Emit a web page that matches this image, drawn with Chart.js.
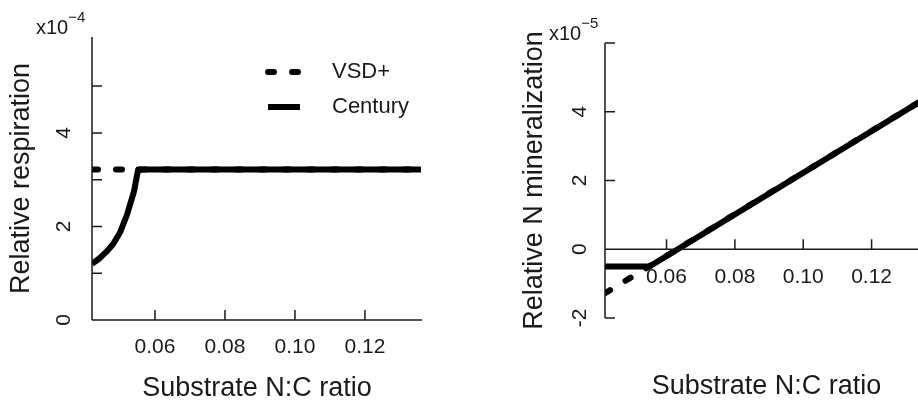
<!DOCTYPE html>
<html>
<head>
<meta charset="utf-8">
<script src="https://cdn.jsdelivr.net/npm/chart.js@4.4.1/dist/chart.umd.min.js"></script>
<style>
  html, body { margin: 0; padding: 0; background: #fff; overflow: hidden; }
  body { width: 918px; height: 404px; position: relative; }
  canvas { position: absolute; top: 0; }
  #resp { left: 0; }
  #mineral { left: 460px; }
</style>
</head>
<body>
<canvas id="resp" width="460" height="404"></canvas>
<canvas id="mineral" width="480" height="404"></canvas>
<script>
// Substrate N:C ratio ticks (both panels)
const ncTicks = [0.06, 0.08, 0.10, 0.12];
const ncTickLabels = ['0.06', '0.08', '0.10', '0.12'];

// Left panel: relative respiration, values in units of 1e-4
const respCenturyX = [0.042, 0.044, 0.046, 0.048, 0.050, 0.052, 0.054, 0.0552, 0.136];
const respCentury  = [1.20, 1.31, 1.45, 1.62, 1.87, 2.25, 2.75, 3.22, 3.22];
const respVsdX = [0.042, 0.136];
const respVsd  = [3.22, 3.22];
const respTicks = [0, 1, 2, 3, 4, 5];
const respTickLabels = ['0', '', '2', '', '4', ''];

// Right panel: relative N mineralization, values in units of 1e-5
const minCenturyX = [0.042, 0.055, 0.1375];
const minCentury  = [-0.5, -0.5, 4.5];
const minVsdX = [0.042, 0.1375];
const minVsd  = [-1.28, 4.5];
const minTicks = [-2, 0, 2, 4, 6];
const minTickLabels = ['-2', '0', '2', '4', ''];

const FONT = '"Liberation Sans", Arial, sans-serif';
const INK = '#1a1a1a';

function series(label, xs, ys, dashed) {
  return {
    label: label,
    data: xs.map((x, i) => ({ x: x, y: ys[i] })),
    showLine: true,
    borderColor: '#000',
    borderWidth: 6,
    borderDash: dashed ? [6, 18] : [],
    borderCapStyle: dashed ? 'round' : 'butt',
    borderJoinStyle: 'round',
    pointRadius: 0,
    fill: false
  };
}

// R-style axes: inward ticks, rotated y labels, multiplier note
const rAxes = {
  id: 'rAxes',
  afterDatasetsDraw(chart, args, opts) {
    const ctx = chart.ctx;
    const xs = chart.scales.x, ys = chart.scales.y;
    const a = chart.chartArea;
    const axisY = ys.getPixelForValue(opts.xAxisAt);

    ctx.save();
    ctx.strokeStyle = INK;
    ctx.lineWidth = 1.5;
    ctx.setLineDash([]);

    ctx.beginPath();
    ctx.moveTo(a.left, a.top);
    ctx.lineTo(a.left, a.bottom);
    ctx.moveTo(a.left, axisY);
    ctx.lineTo(a.right, axisY);
    opts.yTicks.forEach(v => {
      const py = ys.getPixelForValue(v);
      ctx.moveTo(a.left, py);
      ctx.lineTo(a.left + 10, py);
    });
    ncTicks.forEach(v => {
      const px = xs.getPixelForValue(v);
      ctx.moveTo(px, axisY);
      ctx.lineTo(px, axisY - 10);
    });
    ctx.stroke();

    ctx.fillStyle = INK;
    ctx.textAlign = 'center';
    ctx.textBaseline = 'middle';

    // x tick labels
    ctx.font = '21px ' + FONT;
    ncTicks.forEach((v, i) => {
      ctx.fillText(ncTickLabels[i], xs.getPixelForValue(v), axisY + opts.xLabelGap);
    });

    // y tick labels, rotated
    opts.yTicks.forEach((v, i) => {
      if (!opts.yLabels[i]) return;
      ctx.save();
      ctx.translate(a.left - opts.yLabelGap, ys.getPixelForValue(v));
      ctx.rotate(-Math.PI / 2);
      ctx.fillText(opts.yLabels[i], 0, 0);
      ctx.restore();
    });

    // axis titles
    ctx.font = '27px ' + FONT;
    ctx.fillText(opts.xTitle, (a.left + a.right) / 2, opts.xTitleY);
    ctx.save();
    ctx.translate(a.left - 70, (a.top + a.bottom) / 2);
    ctx.rotate(-Math.PI / 2);
    ctx.fillText(opts.yTitle, 0, 0);
    ctx.restore();

    // multiplier
    ctx.textAlign = 'left';
    ctx.textBaseline = 'alphabetic';
    ctx.font = '20px ' + FONT;
    const mx = a.left - 56, my = a.top - 3;
    ctx.fillText('x10', mx, my);
    const w = ctx.measureText('x10').width;
    ctx.font = '15px ' + FONT;
    ctx.fillText(opts.power, mx + w, my - 12);

    // legend
    if (opts.legend) {
      chart.data.datasets.forEach((ds, i) => {
        const ly = opts.legend.y[i];
        ctx.strokeStyle = '#000';
        ctx.lineWidth = ds.borderWidth;
        ctx.lineCap = ds.borderCapStyle;
        ctx.setLineDash(ds.borderDash);
        ctx.beginPath();
        ctx.moveTo(opts.legend.x0, ly);
        ctx.lineTo(opts.legend.x1, ly);
        ctx.stroke();
        ctx.setLineDash([]);
        ctx.font = '22px ' + FONT;
        ctx.textBaseline = 'middle';
        ctx.fillText(ds.label, opts.legend.tx, ly);
      });
    }
    ctx.restore();
  }
};

function panel(id, datasets, pad, xRange, yRange, axisOpts) {
  return new Chart(document.getElementById(id), {
    type: 'scatter',
    data: { datasets: datasets },
    options: {
      responsive: false,
      animation: false,
      layout: { padding: pad },
      scales: {
        x: { type: 'linear', display: false, min: xRange[0], max: xRange[1] },
        y: { type: 'linear', display: false, min: yRange[0], max: yRange[1] }
      },
      plugins: {
        legend: { display: false },
        tooltip: { enabled: false },
        rAxes: axisOpts
      }
    },
    plugins: [rAxes]
  });
}

panel('resp',
  [series('VSD+', respVsdX, respVsd, true), series('Century', respCenturyX, respCentury, false)],
  { left: 92, right: 38, top: 37, bottom: 84 },
  [0.042, 0.1363], [0, 6.05],
  {
    xAxisAt: 0, yTicks: respTicks, yLabels: respTickLabels,
    xLabelGap: 27, yLabelGap: 28, xTitleY: 389,
    xTitle: 'Substrate N:C ratio', yTitle: 'Relative respiration', power: '\u22124',
    legend: { x0: 268, x1: 300, tx: 332, y: [72, 107] }
  });

panel('mineral',
  [series('VSD+', minVsdX, minVsd, true), series('Century', minCenturyX, minCentury, false)],
  { left: 145, right: 12, top: 43, bottom: 86 },
  [0.042, 0.1365], [-2, 6],
  {
    xAxisAt: 0, yTicks: minTicks, yLabels: minTickLabels,
    xLabelGap: 28, yLabelGap: 25, xTitleY: 387,
    xTitle: 'Substrate N:C ratio', yTitle: 'Relative N mineralization', power: '\u22125'
  });
</script>
</body>
</html>
